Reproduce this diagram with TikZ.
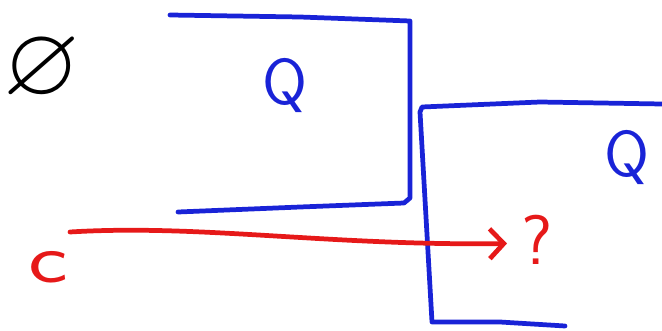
\documentclass[tikz,border=0pt]{standalone}
\usepackage{amssymb}
\usepackage{tikz}
\usetikzlibrary{arrows.meta,positioning}
\definecolor{penblue}{RGB}{25, 35, 215}
\definecolor{penred}{RGB}{230, 25, 25}

\begin{document}
\begin{tikzpicture}[
      x=0.02cm, y=-0.02cm,
      >={Straight Barb[length=8pt,width=17pt]},
      pen/.style={line width=2.7pt, line cap=round, line join=round},
      bluepen/.style={pen, draw=penblue},
      redpen/.style={pen, draw=penred},
      letter/.style={font=\sffamily\fontsize{37}{40}\selectfont, inner sep=0pt},
  ]
      \useasboundingbox (0,0) rectangle (662,331);

      % Leere Menge oben links
      \node[scale=5.6, inner sep=0pt] (empty) at (42,70) {$\varnothing$};

      % Erster Kasten (offen nach links)
      \draw[bluepen] (170,15) -- (300,17) -- (410,21) -- (410,198)
          -- (404,203) -- (300,207) -- (178,212);
      \node[letter, text=penblue] (qleft) at (285,85) {Q};

      % Zweiter Kasten (offen nach rechts)
      \draw[bluepen] (662,104) -- (540,102) -- (422,107) -- (420,112)
          -- (432,322) -- (500,322) -- (565,326);
      \node[letter, text=penblue] (qright) at (627,157) {Q};

      % Pfeil zum Fragezeichen
      \node[letter, text=penred, font=\sffamily\fontsize{40}{44}\selectfont] (qmark) at (537,240) {?};
      \node[letter, text=penred, xscale=1.35, font=\sffamily\fontsize{40}{44}\selectfont] (cval) at (48,267) {c};
      \coordinate (start) at (70,232);
      \draw[redpen, ->] (start) .. controls (200,224) and (330,246)
          .. ([xshift=-8pt, yshift=-2pt]qmark.west);

  \end{tikzpicture}
\end{document}
